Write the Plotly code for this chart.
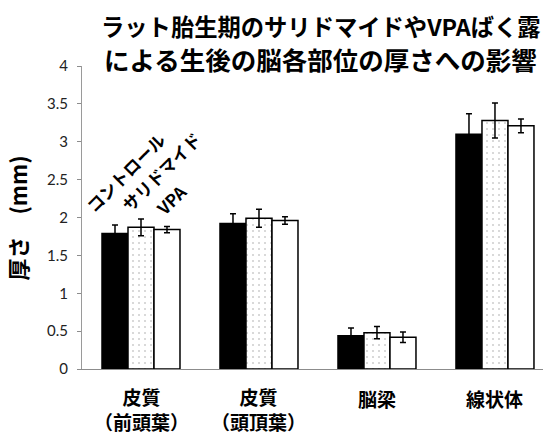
import plotly.graph_objects as go

# Brain regions (x categories)
regions = ["皮質<br>（前頭葉）", "皮質<br>（頭頂葉）", "脳梁", "線状体"]

# Mean thickness (mm) and error (mm) per group
control = [1.79, 1.92, 0.44, 3.10]
control_err = [0.11, 0.13, 0.10, 0.27]
thalidomide = [1.87, 1.99, 0.48, 3.28]
thalidomide_err = [0.11, 0.12, 0.08, 0.23]
vpa = [1.84, 1.96, 0.42, 3.21]
vpa_err = [0.04, 0.05, 0.07, 0.09]

group_names = ["コントロール", "サリドマイド", "VPA"]

title_lines = ["ラット胎生期のサリドマイドやVPAばく露",
               "による生後の脳各部位の厚さへの影響"]

JP = "Noto Sans CJK JP"
xs = list(range(len(regions)))

def err(vals):
    return dict(type="data", array=vals, visible=True,
                color="black", thickness=1.5, width=3)

fig = go.Figure()
fig.add_trace(go.Bar(
    x=xs, y=control, name=group_names[0], error_y=err(control_err),
    marker=dict(color="black", line=dict(color="black", width=1.5)),
))
fig.add_trace(go.Bar(
    x=xs, y=thalidomide, name=group_names[1], error_y=err(thalidomide_err),
    marker=dict(color="white", line=dict(color="black", width=1.5),
                pattern=dict(shape=".", fgcolor="#a0a0a0", bgcolor="white",
                             size=6, solidity=0.1)),
))
fig.add_trace(go.Bar(
    x=xs, y=vpa, name=group_names[2], error_y=err(vpa_err),
    marker=dict(color="white", line=dict(color="black", width=1.5)),
))

annotations = []

# Title, one annotation per line
for line, ty, size in zip(title_lines, [1.132, 1.0264], [23.3, 25.5]):
    annotations.append(dict(
        text="<b>" + line + "</b>",
        xref="paper", yref="paper", x=0.518, y=ty,
        xanchor="center", yanchor="middle", showarrow=False, borderpad=0,
        font=dict(family=JP, size=size, color="black"),
    ))

# Y-axis title
annotations.append(dict(
    text="<b>厚さ\u3000(mm)</b>",
    xref="paper", yref="paper", x=-0.141, y=0.5,
    xanchor="center", yanchor="middle", textangle=-90, showarrow=False,
    font=dict(family=JP, size=22, color="black"),
))

# Category labels under each group
for i, name in enumerate(regions):
    two_lines = "<br>" in name
    annotations.append(dict(
        text="<b>" + name + "</b>",
        x=i, y=0, xref="x", yref="y",
        xanchor="center", yanchor="middle",
        yshift=-40 if two_lines else -29,
        showarrow=False, align="center", borderpad=0,
        font=dict(family=JP, size=19, color="black"),
    ))

# Rotated group labels above the first group
label_pos = [(-0.136, 2.60), (0.169, 2.61), (0.254, 2.24)]
for name, (lx, ly) in zip(group_names, label_pos):
    annotations.append(dict(
        text="<b>" + name + "</b>",
        x=lx, y=ly, xref="x", yref="y",
        xanchor="center", yanchor="middle", textangle=-45,
        showarrow=False,
        font=dict(family=JP, size=17, color="black"),
    ))

fig.update_layout(
    width=543, height=435,
    margin=dict(l=82, r=0, t=66, b=66),
    paper_bgcolor="white", plot_bgcolor="white",
    barmode="group", bargap=0.339, bargroupgap=0,
    showlegend=False,
    annotations=annotations,
    xaxis=dict(
        range=[-0.5, 3.407], showticklabels=False, ticks="",
        showgrid=False, zeroline=False,
        showline=True, linecolor="#8c8c8c", linewidth=1,
    ),
    yaxis=dict(
        range=[0, 4],
        tickvals=[0, 0.5, 1, 1.5, 2, 2.5, 3, 3.5, 4],
        ticktext=["0", "0.5", "1", "1.5", "2", "2.5", "3", "3.5", "4"],
        ticks="outside", ticklen=4, tickcolor="#8c8c8c", tickwidth=1,
        showgrid=False, zeroline=False,
        showline=True, linecolor="#9a9a9a", linewidth=1,
        tickfont=dict(family="Lato", size=15, color="#222222"),
        ticklabelstandoff=6,
    ),
)

fig.write_html("out.html")
